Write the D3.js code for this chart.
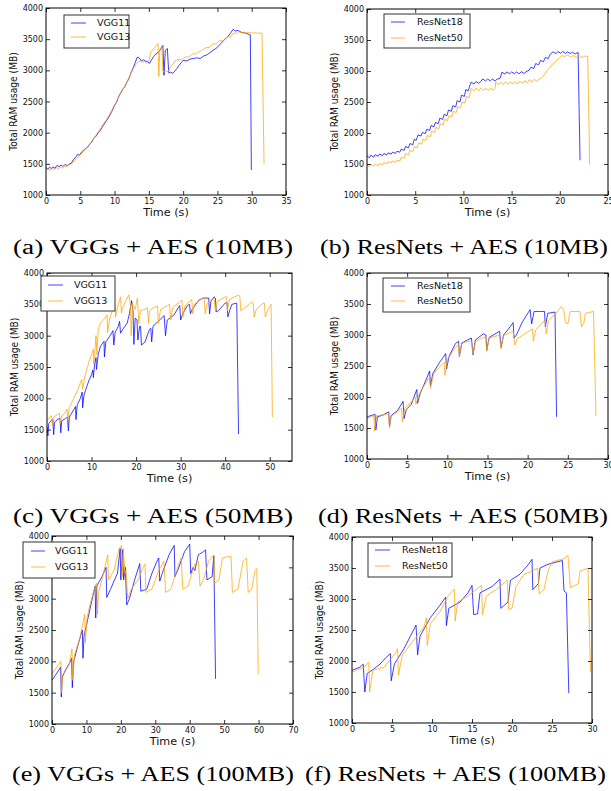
<!DOCTYPE html>
<html><head><meta charset="utf-8">
<script src="https://cdn.jsdelivr.net/npm/d3@7"></script>
<style>body{margin:0;background:#fff}</style>
</head><body>
<svg id="chart" width="611" height="791"></svg>
<script>
// ---------- data ----------
const yTicks = [1000,1500,2000,2500,3000,3500,4000];
const xTicks35 = [0,5,10,15,20,25,30,35];
const xTicks25 = [0,5,10,15,20,25];
const xTicks55 = [0,10,20,30,40,50];
const xTicks30 = [0,5,10,15,20,25,30];
const xTicks70 = [0,10,20,30,40,50,60,70];
const vggNames = ["VGG11","VGG13"];
const resNames = ["ResNet18","ResNet50"];
const captions = ["(a) VGGs + AES (10MB)","(b) ResNets + AES (10MB)","(c) VGGs + AES (50MB)","(d) ResNets + AES (50MB)","(e) VGGs + AES (100MB)","(f) ResNets + AES (100MB)"];
const xLabel = "Time (s)";
const yLabel = "Total RAM usage (MB)";

const a_vgg11 = [[0,1440],[0.3,1415],[0.5,1445],[0.8,1425],[1,1450],[1.3,1430],[1.6,1475],[1.9,1455],[2.2,1480],[2.5,1460],[2.8,1490],[3.1,1470],[3.4,1500],[3.7,1510],[4,1570],[4.3,1600],[4.6,1650],[4.9,1640],[5.2,1690],[5.5,1720],[5.8,1750],[6.1,1770],[6.4,1820],[6.7,1850],[7,1920],[7.3,1940],[7.6,2000],[7.9,2030],[8.2,2090],[8.5,2140],[8.8,2190],[9.1,2240],[9.4,2300],[9.7,2360],[10,2440],[10.3,2490],[10.6,2580],[10.9,2640],[11.2,2700],[11.5,2740],[11.8,2810],[12.1,2870],[12.4,2960],[12.7,3040],[13,3120],[13.3,3210],[13.6,3200],[13.9,3150],[14.2,3170],[14.5,3150],[14.8,3140],[15.1,3110],[15.4,3170],[15.7,3220],[16,3260],[16.3,3280],[16.6,3320],[16.9,3380],[17.05,3400],[17.2,2920],[17.4,3320],[17.7,3350],[17.9,2960],[18.2,2970],[18.5,2950],[18.8,2990],[19.1,3030],[19.4,3080],[19.7,3120],[20,3160],[20.5,3150],[21,3180],[21.5,3190],[22,3200],[22.5,3190],[23,3230],[23.5,3250],[24,3290],[24.5,3330],[25,3370],[25.5,3430],[26,3490],[26.5,3540],[27,3610],[27.3,3660],[27.6,3630],[28,3640],[28.5,3610],[29,3600],[29.5,3580],[29.8,3570],[29.95,1400]];
const a_vgg13 = [[0,1400],[0.3,1420],[0.6,1395],[0.9,1425],[1.2,1405],[1.5,1440],[1.8,1420],[2.1,1450],[2.4,1430],[2.7,1465],[3,1450],[3.3,1480],[3.6,1490],[3.9,1520],[4.2,1560],[4.5,1590],[4.8,1620],[5.1,1660],[5.4,1690],[5.7,1730],[6,1770],[6.3,1810],[6.6,1850],[6.9,1900],[7.2,1940],[7.5,2000],[7.8,2040],[8.1,2090],[8.4,2150],[8.7,2190],[9,2250],[9.3,2300],[9.6,2360],[9.9,2430],[10.2,2480],[10.5,2550],[10.8,2610],[11.1,2670],[11.4,2730],[11.7,2790],[12,2860],[12.3,2930],[12.6,3000],[12.9,3060],[13.2,3110],[13.5,3140],[13.8,3150],[14.1,3130],[14.4,3140],[14.7,3110],[15,3150],[15.3,3300],[15.6,3330],[15.9,3370],[16.2,3410],[16.35,3430],[16.45,2900],[16.6,3340],[16.9,3360],[17.05,2980],[17.4,2990],[17.8,2980],[18.1,3040],[18.5,3100],[18.8,3150],[19.1,3170],[19.5,3180],[19.8,3170],[20.1,3200],[20.5,3220],[20.8,3210],[21.1,3240],[21.5,3270],[21.8,3260],[22.1,3290],[22.5,3300],[22.8,3330],[23.1,3350],[23.5,3370],[23.8,3360],[24.1,3400],[24.5,3430],[24.8,3420],[25.1,3460],[25.5,3480],[25.8,3470],[26.1,3510],[26.5,3540],[26.8,3530],[27.1,3570],[27.5,3600],[27.8,3590],[28.1,3620],[28.5,3600],[28.8,3615],[29.2,3600],[29.6,3610],[30,3595],[30.4,3605],[30.8,3595],[31.2,3600],[31.5,3590],[31.8,1500]];

const b_res18 = [[0,1630],[0.25,1600],[0.4,1640],[0.7,1610],[0.85,1650],[1.15,1625],[1.3,1660],[1.6,1635],[1.75,1670],[2.05,1645],[2.2,1680],[2.5,1660],[2.65,1690],[2.95,1670],[3.1,1705],[3.4,1690],[3.55,1740],[3.85,1720],[4,1780],[4.3,1760],[4.45,1830],[4.75,1810],[4.9,1900],[5.1,1880],[5.3,1970],[5.6,1950],[5.75,2010],[6.05,1990],[6.2,2060],[6.5,2040],[6.65,2120],[6.95,2100],[7.1,2170],[7.4,2150],[7.55,2240],[7.85,2220],[8,2300],[8.3,2280],[8.45,2370],[8.75,2350],[8.9,2440],[9.2,2420],[9.35,2520],[9.65,2500],[9.8,2610],[10.1,2590],[10.25,2700],[10.5,2680],[10.65,2760],[10.8,2820],[11.1,2790],[11.3,2830],[11.6,2800],[11.8,2830],[12,2870],[12.3,2840],[12.5,2870],[12.8,2840],[13,2870],[13.3,2840],[13.5,2870],[13.8,2880],[14,2980],[14.3,2950],[14.5,2985],[14.8,2955],[15,2985],[15.3,2955],[15.5,2985],[15.8,2955],[16,2990],[16.3,2960],[16.5,2990],[16.8,3010],[17,3060],[17.3,3040],[17.5,3120],[17.8,3100],[18,3170],[18.3,3150],[18.5,3220],[18.8,3200],[19,3270],[19.3,3310],[19.6,3280],[19.8,3315],[20.1,3285],[20.3,3315],[20.6,3285],[20.8,3310],[21.1,3280],[21.3,3305],[21.6,3275],[21.9,3300],[22.1,1560]];
const b_res50 = [[0,1490],[0.25,1460],[0.4,1495],[0.7,1465],[0.85,1500],[1.15,1470],[1.3,1510],[1.6,1485],[1.75,1525],[2.05,1500],[2.2,1540],[2.5,1515],[2.65,1550],[2.95,1525],[3.1,1560],[3.4,1545],[3.55,1610],[3.85,1590],[4,1670],[4.3,1650],[4.45,1720],[4.75,1700],[4.9,1780],[5.2,1760],[5.35,1840],[5.65,1820],[5.8,1900],[6.1,1880],[6.25,1960],[6.55,1940],[6.7,2030],[7,2010],[7.15,2090],[7.45,2070],[7.6,2150],[7.9,2130],[8.05,2220],[8.35,2200],[8.5,2280],[8.8,2260],[8.95,2350],[9.25,2330],[9.4,2420],[9.7,2400],[9.85,2500],[10.15,2480],[10.3,2590],[10.6,2570],[10.8,2720],[11.1,2680],[11.3,2725],[11.6,2685],[11.8,2725],[12.1,2685],[12.3,2725],[12.6,2685],[12.8,2725],[13.1,2690],[13.3,2725],[13.35,2820],[13.65,2780],[13.85,2820],[14.15,2780],[14.35,2825],[14.65,2785],[14.85,2825],[15.15,2790],[15.35,2830],[15.65,2790],[15.85,2835],[16.15,2800],[16.35,2845],[16.65,2810],[16.85,2860],[17.15,2820],[17.35,2865],[17.65,2830],[17.85,2875],[18.1,2890],[18.4,2940],[18.7,3010],[19,3060],[19.3,3120],[19.6,3160],[19.9,3200],[20.2,3250],[20.5,3230],[20.8,3260],[21.1,3225],[21.4,3250],[21.7,3220],[22,3245],[22.3,3215],[22.6,3240],[22.9,3235],[23.1,1490]];

const c_vgg11 = [[0,1550],[0.2,1400],[0.4,1600],[1,1650],[1.3,1660],[1.5,1420],[1.7,1620],[2.5,1670],[2.9,1680],[3.1,1450],[3.3,1640],[4.2,1680],[4.6,1700],[4.8,1480],[5,1700],[5.5,1760],[6,1820],[6.4,1870],[6.5,1660],[6.8,1900],[7.5,2000],[7.9,2100],[8,1850],[8.3,2050],[9,2200],[9.5,2300],[10,2380],[10.3,2450],[10.4,2330],[10.7,2550],[11,2650],[11.1,2460],[11.5,2700],[12,2830],[12.5,2880],[12.8,2910],[12.9,2660],[13.2,2900],[14,2980],[14.8,3080],[15,2850],[15.3,3050],[16,3150],[16.3,3230],[16.5,3040],[17,3100],[18,3200],[18.5,3350],[19,3560],[19.3,3400],[19.5,2860],[19.8,3280],[20.2,3250],[20.4,2930],[20.8,3150],[21,3150],[21.2,2850],[22,2900],[23,3100],[23.3,3120],[23.5,2900],[23.8,3150],[25,3230],[26.3,3320],[26.6,3000],[27,3250],[28.5,3330],[29.5,3450],[29.8,3480],[30,3250],[30.5,3350],[31.5,3480],[32,3500],[32.2,3350],[32.6,3420],[34,3560],[35,3600],[36.3,3600],[36.5,3350],[36.8,3550],[37.5,3620],[37.8,3600],[38,3380],[38.5,3400],[40,3520],[40.4,3530],[40.6,3300],[41,3400],[41.5,3500],[42.6,3520],[43,1430]];
const c_vgg13 = [[0,1650],[0.5,1690],[1,1720],[1.2,1560],[1.5,1700],[2.5,1750],[2.8,1760],[3,1600],[3.3,1720],[4,1760],[4.5,1830],[4.7,1650],[5,1850],[6,2000],[7,2150],[7.5,2250],[7.8,2300],[8,2150],[8.5,2350],[9.5,2600],[10,2700],[10.4,2780],[10.5,2550],[10.8,2800],[11,3000],[11.2,2700],[11.5,3100],[12,3200],[13,3280],[13.5,3330],[13.6,3050],[14,3250],[15,3480],[15.2,3520],[15.4,3300],[15.8,3450],[16.5,3620],[16.7,3360],[17,3450],[18,3600],[18.4,3650],[18.7,3500],[18.9,3000],[19.2,3500],[19.8,3420],[20.3,3600],[20.6,3200],[21,3400],[22,3420],[22.5,3450],[22.8,3200],[23,3400],[24,3450],[24.8,3470],[25,3200],[25.5,3420],[27,3480],[27.5,3500],[27.8,3250],[28.2,3450],[30,3550],[30.3,3570],[30.5,3300],[31,3480],[32.5,3580],[32.7,3350],[33,3500],[35,3600],[35.3,3600],[35.5,3350],[36,3520],[37.5,3600],[37.8,3380],[38.3,3550],[40,3620],[40.3,3620],[40.5,3400],[41,3580],[43,3650],[43.3,3620],[43.5,3400],[44,3420],[46,3540],[46.3,3520],[46.5,3300],[47,3420],[48.5,3520],[48.8,3520],[49,3300],[49.5,3400],[50.3,3500],[50.6,1700]];

const d_res18 = [[0,1680],[0.5,1700],[1,1720],[1.1,1470],[1.3,1680],[2,1710],[2.7,1760],[2.8,1520],[3,1700],[3.8,1780],[4.5,1930],[4.6,1650],[4.9,1800],[5.5,1880],[6.2,2120],[6.3,1900],[6.6,2050],[7.2,2230],[7.8,2420],[7.9,2180],[8.2,2380],[9,2550],[9.8,2700],[9.9,2450],[10.2,2650],[11,2860],[11.4,2900],[11.5,2650],[11.8,2870],[12.5,2920],[13,2950],[13.2,2680],[13.5,2920],[14.5,3020],[14.8,3000],[14.9,2750],[15.2,2960],[16.5,3060],[16.7,2800],[17,3000],[17.5,3080],[18.2,3200],[18.3,2950],[18.6,3000],[19.3,3200],[20.3,3410],[20.5,3180],[20.8,3380],[21.5,3380],[22.1,3380],[22.2,3130],[22.5,3350],[23.4,3370],[23.6,1680]];
const d_res50 = [[0,1650],[0.5,1680],[0.85,1700],[0.95,1450],[1.2,1700],[2,1710],[2.7,1730],[2.8,1500],[3,1690],[3.8,1760],[4.3,1820],[4.4,1600],[4.7,1820],[5.5,1920],[6,2000],[6.1,1880],[6.5,2050],[7.2,2200],[7.8,2320],[7.9,2140],[8.3,2380],[9,2480],[9.6,2560],[9.7,2350],[10,2600],[11,2800],[11.4,2850],[11.5,2650],[11.8,2860],[12.5,2900],[13,2900],[13.2,2690],[13.5,2900],[14.8,2980],[14.9,2740],[15.2,2950],[16.5,3000],[16.65,2780],[17,2990],[18.2,3060],[18.4,2840],[18.7,2940],[20,3050],[20.6,3100],[20.7,2900],[21,3080],[22.2,3250],[22.3,3020],[22.6,3230],[23.5,3350],[24.2,3460],[24.5,3400],[24.7,3200],[25,3180],[25.3,3380],[26.5,3380],[26.7,3130],[27,3200],[27.2,3350],[28.2,3380],[28.5,1700]];

const e_vgg11 = [[0,1700],[1,1780],[2,1860],[2.5,1910],[2.7,1430],[3,1750],[4,1870],[5,1960],[5.7,2050],[5.9,1580],[6.3,2000],[7.5,2250],[8.8,2500],[9,2050],[9.3,2400],[10.5,2700],[11.5,2950],[12.5,3200],[12.7,2690],[13,3200],[14.5,3350],[15.7,3500],[15.9,3020],[17,3150],[18,3280],[19,3400],[19.8,3800],[20,3300],[20.5,3780],[20.8,3300],[21.3,3500],[21.7,2900],[22.5,3000],[24,3300],[25.5,3560],[25.8,3120],[27.5,3150],[29,3400],[30.5,3600],[31,3650],[31.3,3280],[32,3400],[34,3700],[35.5,3850],[35.7,3350],[36.5,3450],[38.5,3750],[40,3870],[40.3,3400],[41,3500],[41.5,3450],[42.5,3700],[44,3750],[44.6,3780],[45,3300],[46.5,3350],[47,3680],[47.5,1720]];
const e_vgg13 = [[0,1800],[1,1880],[2,1950],[2.6,2000],[2.8,1500],[3.2,1800],[4,1850],[5,1950],[5.8,2200],[6,1700],[6.5,2100],[8,2350],[9.5,2750],[9.7,2300],[10.2,2700],[11,2900],[12.5,3200],[13,3250],[13.2,2750],[13.5,3100],[14.5,3300],[16.2,3700],[16.4,3300],[18,3450],[19.5,3800],[20.2,3850],[20.4,3350],[20.7,3800],[21.2,3400],[21.5,3450],[22,3000],[23,3150],[25,3300],[26.5,3500],[27,3550],[27.3,3100],[29,3150],[31,3450],[32.5,3600],[33,3100],[34.5,3150],[36.5,3500],[37.5,3650],[38,3150],[39.5,3200],[41.5,3550],[42.5,3600],[43,3200],[44,3300],[45.5,3600],[47,3700],[47.3,3250],[48.5,3300],[49.5,3650],[50.5,3660],[51,3680],[51.5,3660],[52,3680],[52.4,3100],[54,3150],[55.5,3600],[56.5,3650],[57,3100],[58,3150],[59,3450],[59.5,3480],[59.9,1800]];

const f_res18 = [[0,1850],[1,1900],[1.4,1950],[1.6,1500],[1.9,1800],[2.5,1850],[3.5,1950],[4.2,2050],[4.8,2120],[4.9,1680],[5.3,1950],[6.5,2200],[7.3,2400],[8,2580],[8.2,2100],[8.5,2400],[9.8,2700],[11,2900],[11.7,3030],[11.8,2570],[12.1,2850],[13.5,2950],[14.5,3100],[15,3220],[15.2,2750],[15.7,2760],[16,3100],[17.5,3200],[18.5,3320],[18.6,2850],[19.5,2950],[19.8,3300],[21,3400],[22,3550],[22.5,3640],[22.6,3150],[23.3,3250],[23.5,3500],[24.5,3560],[26.3,3620],[26.5,3130],[26.8,3100],[27.1,1480]];
const f_res50 = [[0,1820],[1.5,1900],[2.1,1980],[2.2,1500],[2.6,1850],[4,1900],[5.4,2120],[5.7,2200],[5.8,1770],[6.3,2100],[7.5,2300],[9,2550],[9.3,2700],[9.4,2250],[9.8,2600],[11,2800],[12,3050],[12.8,3160],[12.9,2650],[13.2,2950],[14.5,3050],[15.5,3150],[16.2,3220],[16.3,2750],[16.8,3050],[18,3150],[19.4,3300],[19.6,2830],[20,2850],[20.5,3200],[21.5,3400],[22.5,3450],[23.2,3500],[23.4,3080],[24,3150],[24.5,3450],[25,3600],[26.5,3650],[27,3700],[27.3,3180],[28.3,3250],[28.5,3450],[29.5,3500],[29.8,1820]];

// ---------- layout ----------
const panels = [
  {rect:[46,8,286,195], xMax:35, xt:xTicks35, series:[a_vgg11,a_vgg13], names:vggNames,
   leg:{box:[64,15,129,48], line:[71,86], tx:97, rows:[23,37]}, cap:{text:captions[0], x0:13, x1:293, y:254}},
  {rect:[367,9,608,195], xMax:25, xt:xTicks25, series:[b_res18,b_res50], names:resNames,
   leg:{box:[384,14,470,48], line:[391,405], tx:417, rows:[22,38]}, cap:{text:captions[1], x0:320, x1:608, y:254}},
  {rect:[47,273,292,461], xMax:55, xt:xTicks55, series:[c_vgg11,c_vgg13], names:vggNames,
   leg:{box:[41,276,115,311], line:[48,63], tx:74, rows:[285,301]}, cap:{text:captions[2], x0:13, x1:293, y:523}},
  {rect:[367,273,608,459], xMax:30, xt:xTicks30, series:[d_res18,d_res50], names:resNames,
   leg:{box:[383,278,470,312], line:[391,405], tx:417, rows:[286,301]}, cap:{text:captions[3], x0:318, x1:608, y:523}},
  {rect:[52,536,293,724], xMax:70, xt:xTicks70, series:[e_vgg11,e_vgg13], names:vggNames,
   leg:{box:[23,542,95,578], line:[31,45], tx:55, rows:[551,567]}, cap:{text:captions[4], x0:12, x1:294, y:781}},
  {rect:[352,537,592,723], xMax:30, xt:xTicks30, series:[f_res18,f_res50], names:resNames,
   leg:{box:[368,543,452,577], line:[375,390], tx:402, rows:[550,566]}, cap:{text:captions[5], x0:305, x1:606, y:781}}
];
const colors = ["#0000ff","#ffa500"];
const SANS = "DejaVu Sans, sans-serif";
const SERIF = "Liberation Serif, Times New Roman, serif";

const svg = d3.select("#chart");
svg.append("rect").attr("width",611).attr("height",791).attr("fill","#fff");

panels.forEach((p, i) => {
  const [L,T,R,B] = p.rect;
  const x = d3.scaleLinear().domain([0,p.xMax]).range([L,R]);
  const y = d3.scaleLinear().domain([1000,4000]).range([B,T]);
  const g = svg.append("g");

  const clipId = "clip"+i;
  g.append("clipPath").attr("id",clipId).append("rect").attr("x",L).attr("y",T).attr("width",R-L).attr("height",B-T);

  const line = d3.line().x(d=>x(d[0])).y(d=>y(d[1]));
  p.series.forEach((s, k) => {
    g.append("path").datum(s).attr("d",line).attr("fill","none")
      .attr("stroke",colors[k]).attr("stroke-opacity",0.75).attr("stroke-width",1)
      .attr("clip-path","url(#"+clipId+")");
  });

  // axes
  const styleAxis = sel => {
    sel.select(".domain").remove();
    sel.selectAll("line").attr("stroke","#000").attr("stroke-width",0.8);
    sel.selectAll("text").attr("fill","#111").attr("font-family",SANS).attr("font-size",8);
  };
  g.append("g").attr("transform",`translate(0,${B})`)
    .call(d3.axisBottom(x).tickValues(p.xt).tickSize(-4).tickPadding(3).tickFormat(d3.format("d"))).call(styleAxis);
  g.append("g").attr("transform",`translate(0,${T})`)
    .call(d3.axisTop(x).tickValues(p.xt).tickSize(-4).tickFormat("")).call(styleAxis);
  g.append("g").attr("transform",`translate(${L},0)`)
    .call(d3.axisLeft(y).tickValues(yTicks).tickSize(-4).tickPadding(3).tickFormat(d3.format("d"))).call(styleAxis);
  g.append("g").attr("transform",`translate(${R},0)`)
    .call(d3.axisRight(y).tickValues(yTicks).tickSize(-4).tickFormat("")).call(styleAxis);

  g.append("rect").attr("x",L).attr("y",T).attr("width",R-L).attr("height",B-T)
    .attr("fill","none").attr("stroke","#000").attr("stroke-width",1);

  // axis labels
  g.append("text").attr("x",(L+R)/2).attr("y",B+21).attr("text-anchor","middle")
    .attr("font-family",SANS).attr("font-size",11.2).attr("fill","#111").text(xLabel);
  g.append("g").attr("transform",`translate(${L-33},${(T+B)/2}) scale(1.2,1) rotate(-90)`)
    .append("text").attr("text-anchor","middle").attr("dy","0.35em")
    .attr("font-family",SANS).attr("font-size",9.1).attr("fill","#111").text(yLabel);

  // legend
  const lg = p.leg;
  g.append("rect").attr("x",lg.box[0]).attr("y",lg.box[1]).attr("width",lg.box[2]-lg.box[0]).attr("height",lg.box[3]-lg.box[1])
    .attr("fill","#fff").attr("stroke","#333").attr("stroke-width",1);
  p.names.forEach((n,k) => {
    g.append("line").attr("x1",lg.line[0]).attr("x2",lg.line[1]).attr("y1",lg.rows[k]).attr("y2",lg.rows[k])
      .attr("stroke",colors[k]).attr("stroke-opacity",0.75).attr("stroke-width",1);
    g.append("text").attr("x",lg.tx).attr("y",lg.rows[k]).attr("dy","0.35em")
      .attr("font-family",SANS).attr("font-size",9.5).attr("fill","#111").text(n);
  });

  // caption
  const c = p.cap;
  svg.append("text").attr("x",c.x0).attr("y",c.y).attr("font-family",SERIF).attr("font-size",20)
    .attr("textLength",c.x1-c.x0).attr("lengthAdjust","spacingAndGlyphs").attr("fill","#000").text(c.text);
});
</script>
</body></html>
